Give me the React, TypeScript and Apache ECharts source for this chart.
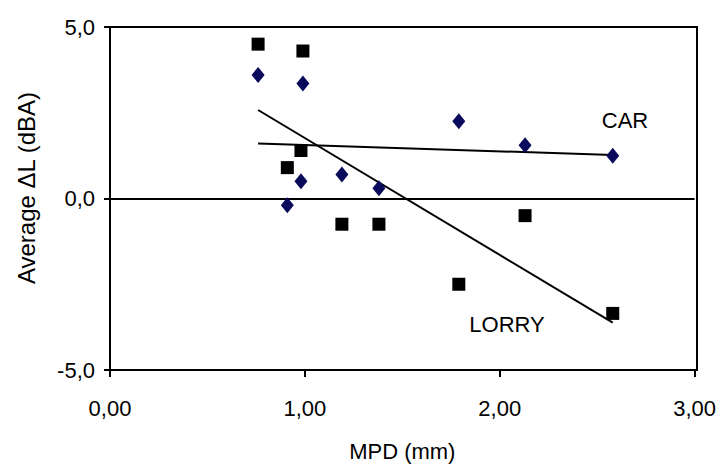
import React, { useEffect, useRef } from "react";
import * as echarts from "echarts";

const mpd = [0.76, 0.99, 0.91, 0.98, 1.19, 1.38, 1.79, 2.13, 2.58];
const lorry = [4.5, 4.3, 0.9, 1.4, -0.75, -0.75, -2.5, -0.5, -3.35];
const car = [3.6, 3.35, -0.2, 0.5, 0.7, 0.3, 2.25, 1.55, 1.25];
const trendX = [0.76, 2.58];
const carTrend = [1.6, 1.27];
const lorryTrend = [2.58, -3.62];
const xTicks = [0, 1, 2, 3];
const yTicks = [-5, 0, 5];
const yTitle = "Average \u0394L (dBA)";
const xTitle = "MPD (mm)";

const font = "'Liberation Sans', Arial, sans-serif";

export default function App() {
  const ref = useRef<HTMLDivElement>(null);
  useEffect(() => {
    const chart = echarts.init(ref.current!, null, { renderer: "svg" });
    chart.setOption({
      animation: false,
      backgroundColor: "#fff",
      grid: { left: 110, right: 22, top: 27, bottom: 99 },
      xAxis: {
        type: "value",
        min: xTicks[0],
        max: xTicks[xTicks.length - 1],
        interval: 1,
        name: xTitle,
        nameLocation: "middle",
        nameGap: 70,
        nameTextStyle: { color: "#000", fontSize: 22, fontFamily: font },
        axisLine: { onZero: false, lineStyle: { color: "#000", width: 2 } },
        axisTick: { show: true, length: 7, lineStyle: { color: "#000", width: 2 } },
        axisLabel: {
          color: "#000",
          fontSize: 22,
          fontFamily: font,
          margin: 27,
          formatter: (v: number) => v.toFixed(2).replace(".", ","),
        },
        splitLine: { show: false },
      },
      yAxis: {
        type: "value",
        min: yTicks[0],
        max: yTicks[yTicks.length - 1],
        interval: 5,
        axisLine: { onZero: false, lineStyle: { color: "#000", width: 2 } },
        axisTick: { show: true, length: 6, lineStyle: { color: "#000", width: 2 } },
        axisLabel: {
          color: "#000",
          fontSize: 22,
          fontFamily: font,
          margin: 15,
          formatter: (v: number) => v.toFixed(1).replace(".", ","),
        },
        splitLine: { show: true, lineStyle: { color: "#000", width: 2 } },
      },
      series: [
        {
          type: "line",
          data: trendX.map((x, i) => [x, carTrend[i]]),
          showSymbol: false,
          lineStyle: { color: "#000", width: 2 },
          silent: true,
          z: 1,
        },
        {
          type: "line",
          data: trendX.map((x, i) => [x, lorryTrend[i]]),
          showSymbol: false,
          lineStyle: { color: "#000", width: 2 },
          silent: true,
          z: 1,
        },
        {
          type: "scatter",
          data: mpd.map((x, i) => [x, lorry[i]]),
          symbol: "rect",
          symbolSize: 13,
          itemStyle: { color: "#000", opacity: 1 },
          z: 3,
        },
        {
          type: "scatter",
          data: mpd.map((x, i) => [x, car[i]]),
          symbol: "diamond",
          symbolSize: [13, 16],
          itemStyle: { color: "#0a0a5c", opacity: 1 },
          z: 3,
        },
      ],
      graphic: [
        {
          type: "rect",
          shape: { x: 110, y: 27, width: 587, height: 343 },
          style: { fill: "none", stroke: "#000", lineWidth: 2 },
          silent: true,
          z: 10,
        },
        {
          type: "text",
          x: 26,
          y: 188,
          rotation: Math.PI / 2,
          style: { text: yTitle, fill: "#000", fontSize: 24, fontFamily: font, textAlign: "center", textVerticalAlign: "middle" },
        },
        {
          type: "text",
          x: 625,
          y: 120,
          style: { text: "CAR", fill: "#000", fontSize: 22, fontFamily: font, textAlign: "center", textVerticalAlign: "middle" },
        },
        {
          type: "text",
          x: 507,
          y: 324,
          style: { text: "LORRY", fill: "#000", fontSize: 22, fontFamily: font, textAlign: "center", textVerticalAlign: "middle" },
        },
      ],
    });
    return () => chart.dispose();
  }, []);
  return <div ref={ref} style={{ width: 719, height: 469, position: "absolute", left: 0, top: 0 }} />;
}
